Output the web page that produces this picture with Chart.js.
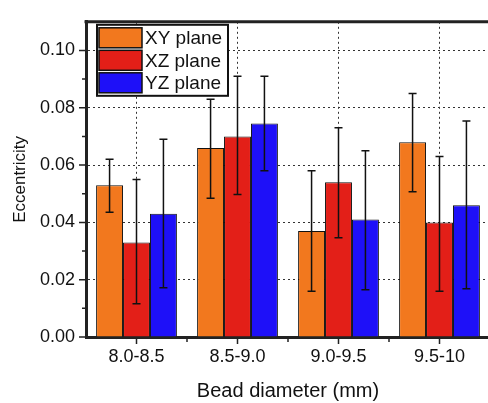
<!DOCTYPE html>
<html lang="en">
<head>
    <meta charset="UTF-8">
    <title>Eccentricity vs bead diameter</title>
    <script src="https://cdn.jsdelivr.net/npm/chart.js"></script>
    <style>
        html, body { margin: 0; padding: 0; background: #fff; overflow: hidden; }
        .chart-box { width: 492px; height: 403px; }
    </style>
</head>
<body>
    <div class="chart-box">
        <canvas id="eccChart"></canvas>
    </div>
    <script>
        // data
        const categories = ['8.0-8.5', '8.5-9.0', '9.0-9.5', '9.5-10'];
        const yTicks = [0.00, 0.02, 0.04, 0.06, 0.08, 0.10];

        const xyValues = [0.053, 0.066, 0.037, 0.068];
        const xzValues = [0.033, 0.070, 0.054, 0.040];
        const yzValues = [0.043, 0.0745, 0.041, 0.046];

        // error bar ends (low / high)
        const xyLow  = [0.0435, 0.0484, 0.016, 0.0507];
        const xyHigh = [0.062, 0.083, 0.058, 0.085];
        const xzLow  = [0.0116, 0.0497, 0.0346, 0.016];
        const xzHigh = [0.055, 0.091, 0.073, 0.063];
        const yzLow  = [0.0172, 0.058, 0.0165, 0.0168];
        const yzHigh = [0.069, 0.091, 0.065, 0.0754];

        const FONT = '"Liberation Sans", Arial, sans-serif';

        // error bars on every bar
        const errorBars = {
            id: 'errorBars',
            afterDatasetsDraw(chart) {
                const ctx = chart.ctx;
                const y = chart.scales.y;
                ctx.save();
                ctx.strokeStyle = '#111';
                ctx.lineWidth = 1.5;
                chart.data.datasets.forEach((ds, di) => {
                    const meta = chart.getDatasetMeta(di);
                    meta.data.forEach((bar, i) => {
                        const hi = y.getPixelForValue(ds.errHigh[i]);
                        const lo = y.getPixelForValue(ds.errLow[i]);
                        ctx.beginPath();
                        ctx.moveTo(bar.x, hi);
                        ctx.lineTo(bar.x, lo);
                        ctx.moveTo(bar.x - 4, hi);
                        ctx.lineTo(bar.x + 4, hi);
                        ctx.moveTo(bar.x - 4, lo);
                        ctx.lineTo(bar.x + 4, lo);
                        ctx.stroke();
                    });
                });
                ctx.restore();
            }
        };

        // frame, tick marks and the boxed legend
        const frameAndLegend = {
            id: 'frameAndLegend',
            afterDraw(chart) {
                const ctx = chart.ctx;
                const area = chart.chartArea;
                const x = chart.scales.x;
                const y = chart.scales.y;
                ctx.save();
                ctx.strokeStyle = '#222';

                // top frame
                ctx.lineWidth = 3;
                ctx.beginPath();
                ctx.moveTo(area.left - 1.5, area.top);
                ctx.lineTo(area.right, area.top);
                ctx.stroke();

                // y ticks (major + minor)
                ctx.lineWidth = 1.5;
                ctx.beginPath();
                yTicks.forEach((v, i) => {
                    const py = y.getPixelForValue(v);
                    ctx.moveTo(area.left - 1, py);
                    ctx.lineTo(area.left - 7, py);
                    if (i < yTicks.length - 1) {
                        const pm = y.getPixelForValue((v + yTicks[i + 1]) / 2);
                        ctx.moveTo(area.left - 1, pm);
                        ctx.lineTo(area.left - 4, pm);
                    }
                });
                // x ticks (major at centres, minor at boundaries)
                categories.forEach((c, i) => {
                    const px = x.getPixelForTick(i);
                    ctx.moveTo(px, area.bottom + 1);
                    ctx.lineTo(px, area.bottom + 7);
                    if (i > 0) {
                        const pb = (px + x.getPixelForTick(i - 1)) / 2;
                        ctx.moveTo(pb, area.bottom + 1);
                        ctx.lineTo(pb, area.bottom + 5);
                    }
                });
                ctx.stroke();

                // legend box
                const lx = area.left + 11, ly = area.top + 3, lw = 131, lh = 71;
                ctx.fillStyle = '#fff';
                ctx.fillRect(lx, ly, lw, lh);
                ctx.lineWidth = 2;
                ctx.strokeStyle = '#111';
                ctx.strokeRect(lx, ly, lw, lh);
                ctx.font = '19px ' + FONT;
                ctx.textBaseline = 'middle';
                chart.data.datasets.forEach((ds, i) => {
                    const sy = ly + 3 + i * 22.5;
                    ctx.fillStyle = ds.backgroundColor;
                    ctx.fillRect(lx + 2, sy, 43, 20);
                    ctx.lineWidth = 1.5;
                    ctx.strokeStyle = '#111';
                    ctx.strokeRect(lx + 2, sy, 43, 20);
                    ctx.fillStyle = '#111';
                    ctx.fillText(ds.label, lx + 48, sy + 11);
                });
                ctx.restore();
            }
        };

        const dashGrid = {
            color: '#333',
            lineWidth: 1,
            drawTicks: false
        };

        new Chart(document.getElementById('eccChart'), {
            type: 'bar',
            data: {
                labels: categories,
                datasets: [
                    { label: 'XY plane', data: xyValues, errLow: xyLow, errHigh: xyHigh, backgroundColor: '#F2781E' },
                    { label: 'XZ plane', data: xzValues, errLow: xzLow, errHigh: xzHigh, backgroundColor: '#E31F18' },
                    { label: 'YZ plane', data: yzValues, errLow: yzLow, errHigh: yzHigh, backgroundColor: '#1E10F8' }
                ].map(ds => Object.assign(ds, {
                    borderColor: '#111',
                    borderWidth: 1,
                    barPercentage: 1.0,
                    categoryPercentage: 0.8
                }))
            },
            options: {
                responsive: true,
                maintainAspectRatio: false,
                animation: false,
                layout: { padding: { top: 11, right: 2, left: 0, bottom: 0 } },
                plugins: {
                    legend: { display: false },
                    tooltip: { enabled: false }
                },
                scales: {
                    x: {
                        grid: Object.assign({ offset: false }, dashGrid),
                        border: { display: true, color: '#222', width: 3, dash: [2, 3] },
                        ticks: { color: '#111', padding: 9, font: { family: FONT, size: 18 } },
                        title: {
                            display: true,
                            text: 'Bead diameter (mm)',
                            color: '#111',
                            font: { family: FONT, size: 20 },
                            padding: { top: 4, bottom: 0 }
                        },
                        afterFit(scale) { scale.height = 66; }
                    },
                    y: {
                        min: 0,
                        max: 0.11,
                        grid: dashGrid,
                        border: { display: true, color: '#222', width: 3, dash: [2, 3] },
                        afterBuildTicks(scale) { scale.ticks = yTicks.map(v => ({ value: v })); },
                        ticks: {
                            color: '#111',
                            padding: 11,
                            font: { family: FONT, size: 18 },
                            callback: v => Number(v).toFixed(2)
                        },
                        title: {
                            display: true,
                            text: 'Eccentricity',
                            color: '#111',
                            font: { family: FONT, size: 17 },
                            padding: { top: 10, bottom: 0 }
                        },
                        afterFit(scale) { scale.width = 86; }
                    }
                }
            },
            plugins: [errorBars, frameAndLegend]
        });
    </script>
</body>
</html>
